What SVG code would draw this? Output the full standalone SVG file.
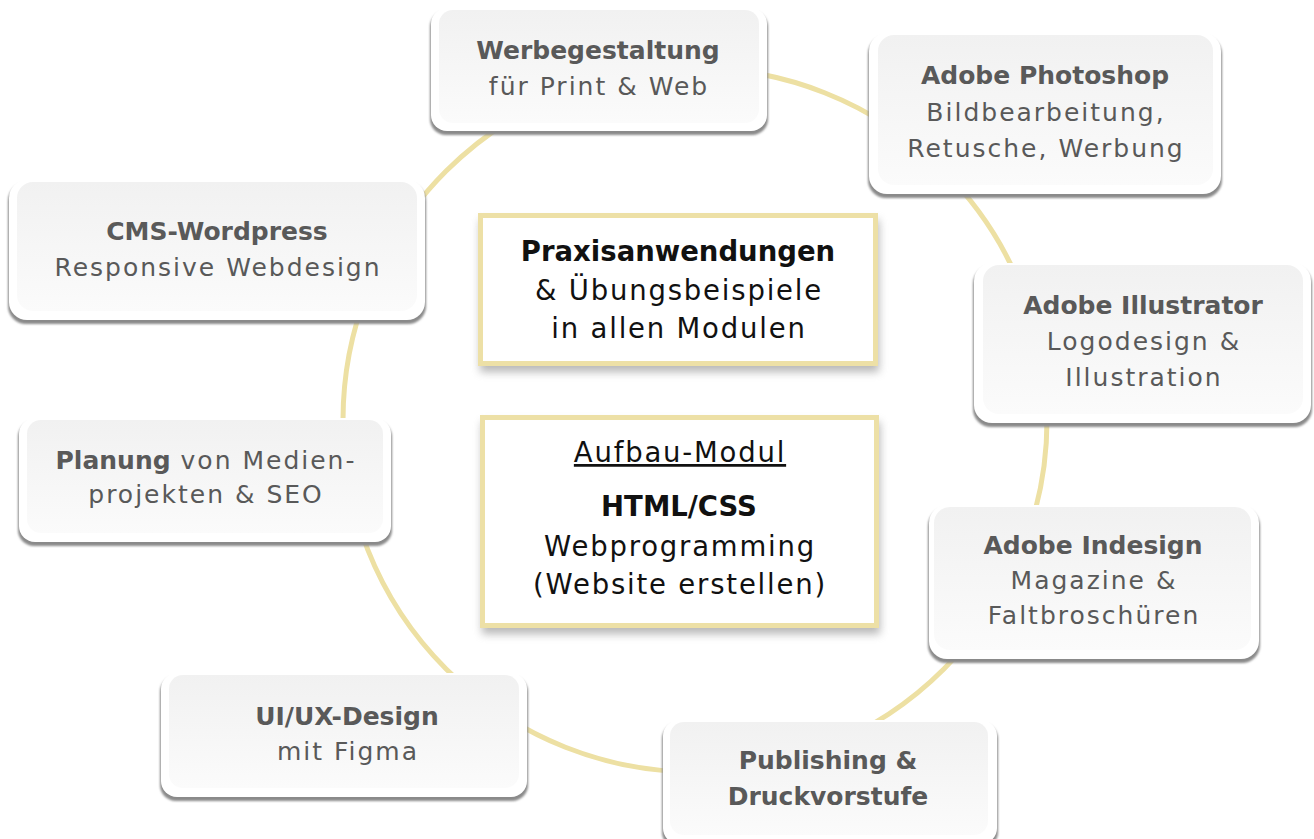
<svg xmlns="http://www.w3.org/2000/svg" width="1314" height="839" viewBox="0 0 1314 839">
<style>
.t{font-family:"DejaVu Sans","Liberation Sans",sans-serif;fill:#595959;text-anchor:middle;font-size:25px;letter-spacing:2px}
.c{font-family:"DejaVu Sans","Liberation Sans",sans-serif;fill:#111;text-anchor:middle;font-size:27.5px;letter-spacing:1.8px}
.t .b,.t.b{font-weight:bold;letter-spacing:0}
.c.b{font-weight:bold;letter-spacing:0}
.sh{fill:#8a8a8a;filter:url(#blur1)}
.wh{fill:#fff}
.in{fill:url(#g)}
.cb{fill:#fff;stroke:#ede0a6;stroke-width:5}
.cs{fill:#888;opacity:0.6;filter:url(#blur4)}
</style>
<defs>
<linearGradient id="g" x1="0" y1="0" x2="0" y2="1">
<stop offset="0" stop-color="#f1f1f1"/>
<stop offset="1" stop-color="#fbfbfb"/>
</linearGradient>
<filter id="blur1" x="-5%" y="-5%" width="110%" height="110%"><feGaussianBlur stdDeviation="1"/></filter>
<filter id="blur4" x="-10%" y="-10%" width="120%" height="130%"><feGaussianBlur stdDeviation="4"/></filter>
</defs>
<rect width="1314" height="839" fill="#fff"/>
<g id="connectors">
<circle cx="695" cy="420" r="352" fill="none" stroke="#ede0a3" stroke-width="5"/>
</g>
<g id="n1">
<rect class="sh" x="430" y="11" width="338" height="124" rx="16"/>
<rect class="wh" x="431" y="8" width="336" height="123" rx="16"/>
<rect class="in" x="439" y="10" width="320" height="113" rx="14"/>
<text class="t b" x="598" y="59">Werbegestaltung</text>
<text class="t" x="599" y="95">für Print &amp; Web</text>
</g>
<g id="n2">
<rect class="sh" x="868" y="36" width="354" height="162" rx="18"/>
<rect class="wh" x="869" y="33" width="352" height="161" rx="18"/>
<rect class="in" x="878" y="35" width="335" height="150" rx="16"/>
<text class="t b" x="1045" y="84">Adobe Photoshop</text>
<text class="t" x="1046" y="121">Bildbearbeitung,</text>
<text class="t" x="1046" y="157">Retusche, Werbung</text>
</g>
<g id="n3">
<rect class="sh" x="8" y="183" width="418" height="141" rx="18"/>
<rect class="wh" x="9" y="180" width="416" height="140" rx="18"/>
<rect class="in" x="17" y="182" width="400" height="129" rx="16"/>
<text class="t b" x="217" y="240">CMS-Wordpress</text>
<text class="t" x="218" y="276">Responsive Webdesign</text>
</g>
<g id="n4">
<rect class="sh" x="973" y="266" width="339" height="161" rx="18"/>
<rect class="wh" x="974" y="263" width="337" height="160" rx="18"/>
<rect class="in" x="983" y="265" width="320" height="149" rx="16"/>
<text class="t b" x="1143" y="314">Adobe Illustrator</text>
<text class="t" x="1144" y="350">Logodesign &amp;</text>
<text class="t" x="1144" y="386">Illustration</text>
</g>
<g id="n5">
<rect class="sh" x="18" y="421" width="374" height="125" rx="16"/>
<rect class="wh" x="19" y="418" width="372" height="124" rx="16"/>
<rect class="in" x="27" y="420" width="356" height="113" rx="14"/>
<text class="t" x="206" y="469"><tspan class="b">Planung</tspan> von Medien-</text>
<text class="t" x="206" y="503">projekten &amp; SEO</text>
</g>
<g id="n6">
<rect class="sh" x="928" y="508" width="332" height="155" rx="18"/>
<rect class="wh" x="929" y="505" width="330" height="154" rx="18"/>
<rect class="in" x="934" y="507" width="317" height="143" rx="16"/>
<text class="t b" x="1093" y="554">Adobe Indesign</text>
<text class="t" x="1094" y="589">Magazine &amp;</text>
<text class="t" x="1094" y="624">Faltbroschüren</text>
</g>
<g id="n7">
<rect class="sh" x="160" y="676" width="368" height="125" rx="16"/>
<rect class="wh" x="161" y="673" width="366" height="124" rx="16"/>
<rect class="in" x="169" y="675" width="350" height="113" rx="14"/>
<text class="t b" x="347" y="725">UI/UX-Design</text>
<text class="t" x="348" y="760">mit Figma</text>
</g>
<g id="n8">
<rect class="sh" x="662" y="723" width="336" height="125" rx="16"/>
<rect class="wh" x="663" y="720" width="334" height="124" rx="16"/>
<rect class="in" x="670" y="722" width="318" height="113" rx="14"/>
<text class="t b" x="828" y="769">Publishing &amp;</text>
<text class="t b" x="828" y="805">Druckvorstufe</text>
</g>
<g id="c1">
<rect class="cs" x="480" y="220" width="399" height="152"/>
<rect class="cb" x="480.5" y="215.5" width="395" height="148"/>
<text class="c b" x="678" y="261">Praxisanwendungen</text>
<text class="c" x="679" y="300">&amp; Übungsbeispiele</text>
<text class="c" x="679" y="338">in allen Modulen</text>
</g>
<g id="c2">
<rect class="cs" x="482" y="422" width="398" height="212"/>
<rect class="cb" x="482.5" y="417.5" width="394" height="208"/>
<text class="c" x="680" y="462" text-decoration="underline">Aufbau-Modul</text>
<text class="c b" x="679" y="516">HTML/CSS</text>
<text class="c" x="680" y="556">Webprogramming</text>
<text class="c" x="680" y="594">(Website erstellen)</text>
</g>
</svg>
